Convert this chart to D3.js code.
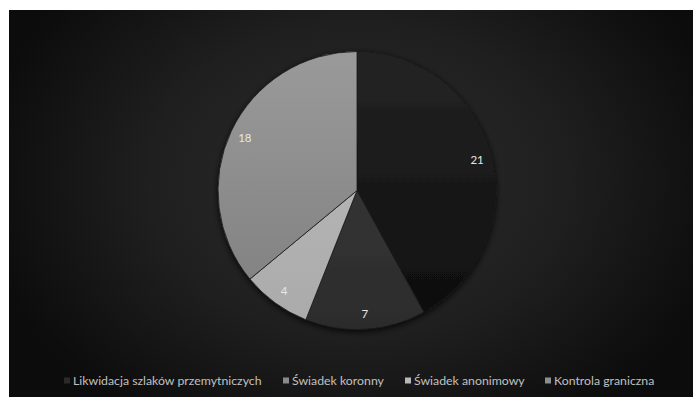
<!DOCTYPE html>
<html>
<head>
<meta charset="utf-8">
<script src="https://cdn.jsdelivr.net/npm/d3@7"></script>
<style>
  html, body { margin: 0; padding: 0; background: #ffffff; }
  svg { display: block; }
</style>
</head>
<body>
<svg id="chart" width="693" height="397"></svg>
<script>
// Sources of seizures and their counts
const categories = ["Likwidacja szlaków przemytniczych", "Świadek koronny", "Świadek anonimowy", "Kontrola graniczna"];
const values = [21, 7, 4, 18];
const sliceTop = ["#242424", "#3a3a3a", "#bdbdbd", "#9a9a9a"];
const sliceBottom = ["#0d0d0d", "#2c2c2c", "#aaaaaa", "#7e7e7e"];
const legendSwatch = ["#2a2a2a", "#8a8a8a", "#b8b8b8", "#8e8e8e"];

const svg = d3.select("#chart");
const W = 693, H = 397;
const panel = { x: 9, y: 10 };
const cx = 357, cy = 190.5, R = 139;

const defs = svg.append("defs");
const bg = defs.append("radialGradient").attr("id", "bg")
  .attr("gradientUnits", "userSpaceOnUse")
  .attr("cx", cx).attr("cy", cy - 10).attr("r", 380)
  .attr("gradientTransform", `translate(${cx},${cy - 10}) scale(1,0.75) translate(${-cx},${-(cy - 10)})`);
bg.append("stop").attr("offset", "0%").attr("stop-color", "#2c2c2c");
bg.append("stop").attr("offset", "55%").attr("stop-color", "#1f1f1f");
bg.append("stop").attr("offset", "100%").attr("stop-color", "#0c0c0c");

// vertical shading for each slice, in the pie group's coordinates
categories.forEach((c, i) => {
  const lg = defs.append("linearGradient").attr("id", "slice" + i)
    .attr("gradientUnits", "userSpaceOnUse")
    .attr("x1", 0).attr("y1", -R).attr("x2", 0).attr("y2", R);
  lg.append("stop").attr("offset", "0%").attr("stop-color", sliceTop[i]);
  lg.append("stop").attr("offset", "100%").attr("stop-color", sliceBottom[i]);
});

const shadow = defs.append("filter").attr("id", "shadow")
  .attr("x", "-20%").attr("y", "-20%").attr("width", "140%").attr("height", "140%");
shadow.append("feGaussianBlur").attr("in", "SourceAlpha").attr("stdDeviation", 3).attr("result", "b");
shadow.append("feOffset").attr("in", "b").attr("dy", 2).attr("result", "o");
shadow.append("feComponentTransfer").attr("in", "o").attr("result", "s")
  .append("feFuncA").attr("type", "linear").attr("slope", 0.8);
const merge = shadow.append("feMerge");
merge.append("feMergeNode").attr("in", "s");
merge.append("feMergeNode").attr("in", "SourceGraphic");

svg.append("rect")
  .attr("x", panel.x).attr("y", panel.y)
  .attr("width", W - panel.x).attr("height", H - panel.y)
  .attr("fill", "url(#bg)");

const pie = d3.pie().sort(null).value(d => d)(values);
const arc = d3.arc().innerRadius(0).outerRadius(R);
const labelArc = d3.arc().innerRadius(124).outerRadius(124);

const g = svg.append("g").attr("transform", `translate(${cx},${cy})`);
g.append("g").attr("filter", "url(#shadow)")
  .selectAll("path").data(pie).join("path")
  .attr("d", arc)
  .attr("fill", (d, i) => `url(#slice${i})`)
  .attr("stroke", "#1a1a1a")
  .attr("stroke-width", 0.8);

g.selectAll("text.val").data(pie).join("text")
  .attr("class", "val")
  .attr("transform", d => `translate(${labelArc.centroid(d)})`)
  .attr("text-anchor", "middle")
  .attr("dy", "0.35em")
  .attr("fill", "#e6e6e6")
  .attr("font-family", "Lato, 'Open Sans', sans-serif")
  .attr("font-size", 11.5)
  .text(d => d.data);

// Legend along the bottom
const legendX = [64, 283, 405, 545];
const legend = svg.append("g").attr("transform", "translate(0,381)");
categories.forEach((c, i) => {
  legend.append("rect")
    .attr("x", legendX[i]).attr("y", -3.5)
    .attr("width", 6).attr("height", 6)
    .attr("fill", legendSwatch[i]);
  legend.append("text")
    .attr("x", legendX[i] + 9).attr("y", 0)
    .attr("dy", "0.35em")
    .attr("fill", "#c0c0c0")
    .attr("font-family", "Lato, 'Open Sans', sans-serif")
    .attr("font-size", 12.3)
    .text(c);
});
</script>
</body>
</html>
